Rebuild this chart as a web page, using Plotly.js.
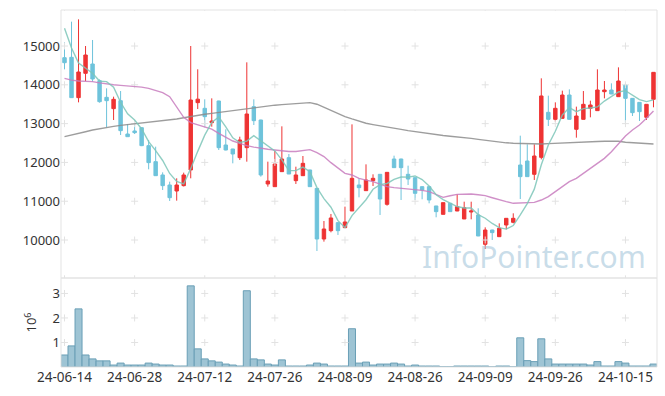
<!DOCTYPE html>
<html>
<head>
<meta charset="utf-8">
<script src="https://cdn.plot.ly/plotly-3.0.1.min.js"></script>
<style>html,body{margin:0;padding:0;background:#fff;}#chart{width:665px;height:396px;}</style>
</head>
<body>
<div id="chart"></div>
<script>
const dates = ["24-06-14","24-06-17","24-06-18","24-06-19","24-06-20","24-06-21","24-06-24","24-06-25","24-06-26","24-06-27",
"24-06-28","24-07-01","24-07-02","24-07-03","24-07-04","24-07-05","24-07-08","24-07-09","24-07-10","24-07-11",
"24-07-12","24-07-15","24-07-16","24-07-17","24-07-18","24-07-19","24-07-22","24-07-23","24-07-24","24-07-25",
"24-07-26","24-07-29","24-07-30","24-07-31","24-08-01","24-08-02","24-08-05","24-08-06","24-08-07","24-08-08",
"24-08-09","24-08-12","24-08-13","24-08-14","24-08-16","24-08-19","24-08-20","24-08-21","24-08-22","24-08-23",
"24-08-26","24-08-27","24-08-28","24-08-29","24-08-30","24-09-02","24-09-03","24-09-04","24-09-05","24-09-06",
"24-09-09","24-09-10","24-09-11","24-09-12","24-09-13","24-09-19","24-09-20","24-09-23","24-09-24","24-09-25",
"24-09-26","24-09-27","24-09-30","24-10-02","24-10-04","24-10-07","24-10-08","24-10-10","24-10-11","24-10-14",
"24-10-15","24-10-16","24-10-17","24-10-18","24-10-21"];

const openP = [14699,14708,13669,14296,14536,14107,13677,13385,13591,12732,
12810,12895,12432,12019,11676,11418,11263,11401,11805,13540,
13394,13024,13583,12449,12346,12122,12380,13437,13093,11444,
11375,11762,12122,11530,11658,11805,11332,10026,10241,10447,
10318,10748,11418,11272,11530,11693,10920,12088,12088,11693,
11607,11375,11375,10877,10662,10946,10748,10542,10722,10645,
9889,10258,10086,10387,10456,11933,12036,11693,12131,13291,
13110,13136,13737,12853,13110,13394,13334,13823,13866,13694,
13995,13651,13548,13162,13626];
const highP = [15094,15627,15687,15000,15155,14140,13909,13694,13840,12990,
12990,12900,12578,12406,11744,11504,11590,11736,15000,14400,
13626,13651,13590,12853,12350,12663,14579,13626,13100,12019,
12303,12930,12217,11890,12165,11810,11340,10490,10671,10460,
10860,12981,11590,11950,11693,11700,11750,12174,12095,11916,
11610,11380,11380,10880,10963,10950,11186,10988,10988,10817,
10327,10265,10430,10565,10688,12689,12466,12466,14167,13720,
13548,13849,13883,13437,13840,13591,14399,14098,14038,14450,
14038,13655,13552,13500,14330];
const lowP = [14399,13660,13548,14098,14081,13540,12904,13093,12706,12663,
12732,12420,11822,11650,11289,11006,11014,11380,11590,13376,
12904,12921,12320,12310,11976,12062,12019,12964,11633,11375,
11375,11760,11700,11444,11650,11370,9717,9958,10198,10130,
10318,10748,11100,11270,11392,10645,10885,11860,11031,11418,
11031,11049,10946,10585,10660,10728,10745,10540,10533,10100,
9769,10001,10080,10275,10430,11057,11630,11547,12079,12938,
13050,13130,13105,12638,13105,13162,13330,13651,13760,13690,
13024,13196,13067,13093,13420];
const closeP = [14570,13669,14330,14768,14150,13565,13591,13626,12818,12663,
12767,12432,11994,11658,11401,11091,11418,11676,13608,13630,
13179,13067,12380,12320,12217,12578,13248,13076,11676,11521,
11959,12088,11701,11676,11976,11375,10026,10284,10568,10241,
10465,11590,11349,11547,11590,11057,11744,11865,11865,11572,
11203,11289,11031,10731,10963,10731,10860,10834,10748,10104,
10258,10190,10301,10559,10559,11633,11633,12165,13712,13110,
13394,13737,13110,13196,13497,13480,13866,13866,13763,14098,
13651,13282,13308,13497,14321];

const ma5 = [15455,14950,14560,14440,14297,14096,14081,13940,13550,13253,
13093,12861,12535,12303,12050,11715,11512,11449,11839,12285,
12702,13032,13173,12915,12633,12512,12549,12688,12559,12420,
12296,12064,11789,11789,11880,11763,11351,11067,10846,10499,
10317,10630,10843,11038,11308,11427,11457,11561,11624,11621,
11650,11559,11392,11165,11043,10949,10863,10824,10827,10655,
10561,10427,10320,10282,10373,10648,10937,11310,11940,12451,
12803,13224,13413,13309,13387,13404,13430,13581,13694,13815,
13849,13732,13620,13567,13612];
const ma20 = [14167,14120,14098,14090,14081,14050,14021,14000,13986,13975,
13969,13940,13909,13860,13797,13694,13437,13162,13024,12964,
12910,12860,12749,12650,12552,12490,12432,12395,12363,12340,
12320,12300,12280,12280,12310,12330,12250,12150,11993,11847,
11719,11676,11590,11545,11504,11440,11375,11350,11332,11320,
11315,11280,11246,11170,11100,11140,11177,11180,11186,11165,
11143,11090,11031,10990,10946,10955,10965,10971,11031,11117,
11246,11375,11504,11590,11719,11847,11976,12105,12277,12466,
12681,12835,12964,13136,13325];
const ma60 = [12663,12700,12740,12790,12835,12870,12900,12930,12955,12975,
12995,13015,13035,13055,13070,13090,13120,13150,13185,13215,
13240,13265,13290,13312,13334,13360,13385,13410,13435,13460,
13475,13490,13505,13520,13532,13540,13500,13420,13320,13250,
13180,13120,13060,13010,12975,12940,12910,12880,12850,12820,
12792,12765,12740,12715,12695,12675,12660,12646,12620,12595,
12570,12545,12520,12505,12495,12490,12482,12475,12475,12485,
12495,12505,12517,12522,12528,12533,12538,12545,12552,12545,
12520,12505,12495,12485,12475];

// volume in units of 10^6 shares
const volume = [0.49,0.86,2.37,0.49,0.33,0.25,0.25,0.08,0.16,0.08,
0.08,0.08,0.16,0.12,0.08,0.08,0.04,0.04,3.31,0.74,
0.33,0.25,0.20,0.12,0.08,0.04,3.11,0.33,0.29,0.12,
0.08,0.29,0.04,0.04,0.04,0.08,0.16,0.12,0.04,0.04,
0.04,1.56,0.16,0.20,0.08,0.12,0.12,0.16,0.12,0.04,
0.08,0.04,0.04,0.04,0.01,0.01,0.04,0.04,0.04,0.04,
0.04,0.005,0.04,0.04,0.005,1.19,0.26,0.22,1.15,0.33,
0.12,0.12,0.12,0.12,0.12,0.08,0.22,0.04,0.04,0.22,
0.16,0.04,0.04,0.04,0.12];

const xTickVals = ["24-06-14","24-06-28","24-07-12","24-07-26","24-08-09","24-08-26","24-09-09","24-09-26","24-10-15"];
const priceTicks = [10000,11000,12000,13000,14000,15000];
const priceTickText = ["10000","11000","12000","13000","14000","15000"];
const priceCrossLevels = [9000,10000,11000,12000,13000,14000,15000,16000];
const volTicks = [1,2,3];
const volTickText = ["1","2","3"];

const font = {family: "Noto Sans, Open Sans, sans-serif", size: 13, color: "#333"};

const crossPX = [], crossPY = [];
xTickVals.forEach(d => priceCrossLevels.forEach(v => { crossPX.push(d); crossPY.push(v); }));
const crossVX = [], crossVY = [];
xTickVals.forEach(d => volTicks.forEach(v => { crossVX.push(d); crossVY.push(v); }));

const crossMarker = {symbol: "cross-thin", size: 5, line: {color: "#e2e2e2", width: 1}};

const traces = [
  {type: "scatter", mode: "markers", x: crossPX, y: crossPY, xaxis: "x", yaxis: "y",
   marker: crossMarker, hoverinfo: "skip", showlegend: false},
  {type: "scatter", mode: "markers", x: crossVX, y: crossVY, xaxis: "x", yaxis: "y2",
   marker: crossMarker, hoverinfo: "skip", showlegend: false},
  {type: "candlestick", x: dates, open: openP, high: highP, low: lowP, close: closeP,
   xaxis: "x", yaxis: "y", showlegend: false, whiskerwidth: 0,
   increasing: {line: {color: "#ee3333", width: 1}, fillcolor: "#ee3333"},
   decreasing: {line: {color: "#6ec3db", width: 1}, fillcolor: "#6ec3db"}},
  {type: "scatter", mode: "lines", x: dates, y: ma60, xaxis: "x", yaxis: "y",
   line: {color: "rgba(140,140,140,0.85)", width: 1.4}, showlegend: false},
  {type: "scatter", mode: "lines", x: dates, y: ma20, xaxis: "x", yaxis: "y",
   line: {color: "rgba(200,125,190,0.85)", width: 1.4}, showlegend: false},
  {type: "scatter", mode: "lines", x: dates, y: ma5, xaxis: "x", yaxis: "y",
   line: {color: "rgba(125,198,184,0.85)", width: 1.4}, showlegend: false},
  {type: "bar", x: dates, y: volume, xaxis: "x", yaxis: "y2", showlegend: false,
   marker: {color: "#9ec4d4", line: {color: "#6a9fb6", width: 1}}}
];

const layout = {
  width: 665, height: 396,
  margin: {l: 61, r: 8, t: 10, b: 29},
  paper_bgcolor: "#fff", plot_bgcolor: "#fff",
  font: font,
  showlegend: false,
  bargap: 0,
  xaxis: {type: "category", anchor: "y2", categoryorder: "array", categoryarray: dates,
    range: [-0.5, dates.length - 0.5], tickmode: "array", tickvals: xTickVals, ticktext: xTickVals,
    showgrid: false, zeroline: false, showline: false, ticks: "", rangeslider: {visible: false},
    tickfont: {family: font.family, size: 13.5, color: "#333"}, fixedrange: true},
  yaxis: {domain: [0.2493, 1], range: [9021, 15928], tickmode: "array", tickvals: priceTicks,
    ticktext: priceTickText,
    showgrid: false, zeroline: false, showline: false, ticks: "", tickfont: font},
  yaxis2: {domain: [0, 0.2493], range: [0, 3.63], tickmode: "array", tickvals: volTicks,
    ticktext: volTickText,
    showgrid: false, zeroline: false, showline: false, ticks: "", tickfont: font,
    title: {text: "10<sup>6</sup>", font: font, standoff: 12}},
  shapes: [
    {type: "rect", xref: "paper", yref: "paper", x0: 0, x1: 1, y0: 0.2493, y1: 1,
     line: {color: "#e3e3e3", width: 1}},
    {type: "rect", xref: "paper", yref: "paper", x0: 0, x1: 1, y0: 0, y1: 0.2493,
     line: {color: "#e3e3e3", width: 1}}
  ],
  annotations: [
    {text: "InfoPointer.com", xref: "paper", yref: "paper", x: 0.985, y: 0.31,
     xanchor: "right", yanchor: "middle", showarrow: false,
     font: {family: "Noto Sans, Open Sans, sans-serif", size: 30, color: "rgba(165,198,218,0.6)"}}
  ]
};

Plotly.newPlot("chart", traces, layout, {staticPlot: true, displayModeBar: false});
</script>
</body>
</html>
